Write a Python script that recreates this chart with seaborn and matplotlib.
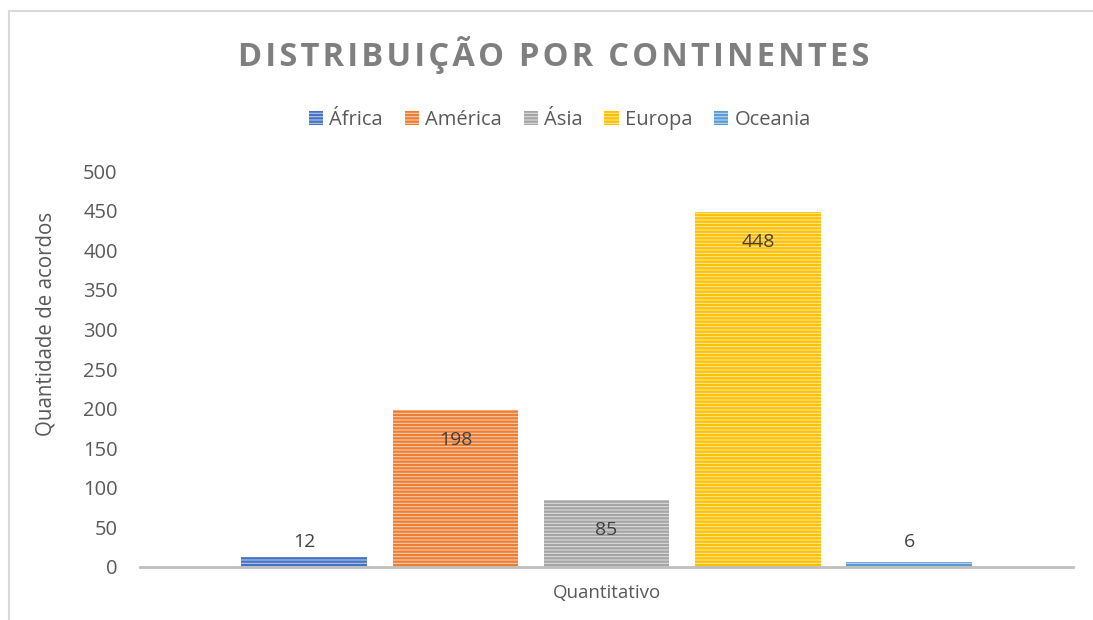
import matplotlib
matplotlib.use("Agg")
import matplotlib.pyplot as plt
import matplotlib.patches as mpatches
import seaborn as sns
import pandas as pd

# data
continents = ['África', 'América', 'Ásia', 'Europa', 'Oceania']
values = [12, 198, 85, 448, 6]
category = 'Quantitativo'
colors = ['#4472C4', '#ED7D31', '#A5A5A5', '#FFC000', '#5B9BD5']
light = ['#B4C7E7', '#F8CBAD', '#DBDBDB', '#FFE699', '#BDD7EE']

sns.set_theme(style='white')
plt.rcParams['font.family'] = ['Open Sans', 'DejaVu Sans']
plt.rcParams['hatch.linewidth'] = 1.6
text_gray = '#595959'

df = pd.DataFrame({'cat': [category] * len(values), 'continent': continents, 'valor': values})

fig = plt.figure(figsize=(10.93, 6.2), dpi=100)
ax = fig.add_axes([0.128, 0.0855, 0.854, 0.6385])

sns.barplot(data=df, x='cat', y='valor', hue='continent', hue_order=continents,
            palette=colors, width=0.81, gap=0.17, legend=False, ax=ax)

for patch, c, lc in zip(ax.patches, colors, light):
    patch.set_facecolor(lc)
    patch.set_edgecolor(c)
    patch.set_hatch('-----')
    patch.set_linewidth(0)

# value labels: inside top for tall bars, just above for small ones
for patch, v in zip(ax.patches, values):
    xc = patch.get_x() + patch.get_width() / 2
    if v > 50:
        ax.annotate(str(v), (xc, v), xytext=(0, -28), textcoords='offset points',
                    ha='center', va='bottom', fontsize=14, color='#404040')
    else:
        ax.annotate(str(v), (xc, 12), xytext=(0, 5), textcoords='offset points',
                    ha='center', va='bottom', fontsize=14, color='#404040')

ax.set_ylim(0, 500)
ax.set_yticks(range(0, 501, 50))
ax.set_xlim(-0.5, 0.5)
ax.set_xticks([])
ax.tick_params(axis='y', labelsize=14.5, labelcolor=text_gray, length=0, pad=16)
ax.set_ylabel('Quantidade de acordos', fontsize=14.8, color=text_gray)
ax.yaxis.set_label_coords(-0.089, 0.614)
ax.set_xlabel(category, fontsize=13.5, color=text_gray, labelpad=12)
for s in ['top', 'right', 'left']:
    ax.spines[s].set_visible(False)
ax.spines['bottom'].set_color('#BFBFBF')
ax.spines['bottom'].set_linewidth(2)

# title with letter spacing
title = 'DISTRIBUIÇÃO POR CONTINENTES'
fig.text(0.507, 0.911, '\u200a'.join(title), ha='center', va='center',
         fontsize=23.5, fontweight='bold', color='#7F7F7F')

# legend
handles = [mpatches.Patch(facecolor=lc, edgecolor=c, hatch='-----', linewidth=0)
           for c, lc in zip(colors, light)]
fig.legend(handles, continents, loc='center', bbox_to_anchor=(0.512, 0.807), ncol=5,
           frameon=False, fontsize=14.5, handlelength=0.7, handleheight=0.7,
           handletextpad=0.3, columnspacing=1.1, labelcolor=text_gray)

# chart area border
fig.patches.append(mpatches.Rectangle((9 / 1093, -0.1), 1.2, 1.1 - 11 / 620,
                                      transform=fig.transFigure, fill=False,
                                      edgecolor='#D9D9D9', linewidth=1.5))

fig.savefig('out.png', dpi=100)
